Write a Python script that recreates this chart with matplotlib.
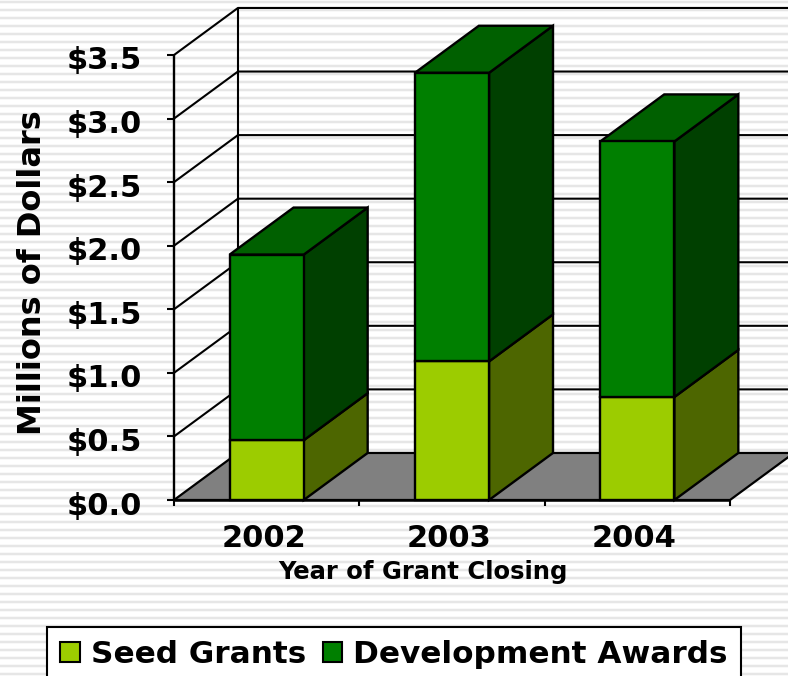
import numpy as np
import matplotlib
matplotlib.use("Agg")
import matplotlib.pyplot as plt
import matplotlib.transforms as mtrans
from matplotlib.patches import Polygon, Patch

years = ["2002", "2003", "2004"]
seed_grants = [0.47, 1.09, 0.81]
development_awards = [1.46, 2.27, 2.01]
y_ticks = [0.0, 0.5, 1.0, 1.5, 2.0, 2.5, 3.0, 3.5]
y_labels = ["$0.0", "$0.5", "$1.0", "$1.5", "$2.0", "$2.5", "$3.0", "$3.5"]

W, H = 788, 676
SEED_FRONT = "#9ccc00"
SEED_SIDE = "#4d6600"
SEED_TOP = "#5f7f00"
DEV_FRONT = "#007f00"
DEV_SIDE = "#004000"
DEV_TOP = "#006000"
FLOOR = "#808080"

# oblique offset of the back wall, in data units
DX, DY = 0.345, 0.37
BAR_W = 0.4

plt.rcParams["font.family"] = ["DejaVu Sans"]
plt.rcParams["font.weight"] = "bold"

fig = plt.figure(figsize=(W / 100, H / 100), dpi=100, facecolor="white")

# striped slide background
bg = fig.add_axes([0, 0, 1, 1], zorder=0)
rows = np.arange(H) % 8
stripes = np.ones((H, 1))
stripes[(rows == 1) | (rows == 2)] = 0.90
stripes[(rows == 0) | (rows == 3)] = 0.97
bg.imshow(stripes, cmap="gray", vmin=0, vmax=1, aspect="auto", interpolation="nearest")
bg.axis("off")

ax = fig.add_axes([174 / W, 1 - 500 / H, 556 / W, 445 / H], zorder=1)
ax.set_xlim(0, 3)
ax.set_ylim(0, 3.5)
ax.patch.set_alpha(0)
for s in ax.spines.values():
    s.set_visible(False)


def poly(pts, fc, z=3, lw=1.7):
    ax.add_patch(Polygon(pts, closed=True, fc=fc, ec="black", lw=lw, clip_on=False, zorder=z, joinstyle="miter"))


def line(xs, ys, lw=1.5, z=2):
    ax.plot(xs, ys, color="black", lw=lw, clip_on=False, zorder=z, solid_capstyle="butt")


# the right side of the plot runs off the slide edge
x_end = 3 + DX

# gridlines and left wall
for t in y_ticks[1:]:
    line([0, DX, x_end], [t, t + DY, t + DY])
line([DX, DX], [DY, 3.5 + DY])
line([0, 0], [0, 3.5], lw=1.7)

# floor
poly([(0, 0), (DX, DY), (x_end, DY), (3, 0)], FLOOR, z=2, lw=1.6)

# axis ticks
for t in y_ticks:
    line([-0.04, 0], [t, t], lw=1.5, z=4)
for i in range(4):
    line([i, i], [0, -0.05], lw=1.5, z=4)
line([0, 3], [0, 0], lw=1.8, z=4)

# bars, back to front
for i in range(len(years)):
    x0 = i + 0.5 - BAR_W / 2
    x1 = x0 + BAR_W
    s = seed_grants[i]
    t = s + development_awards[i]
    poly([(x1, 0), (x1 + DX, DY), (x1 + DX, s + DY), (x1, s)], SEED_SIDE)
    poly([(x1, s), (x1 + DX, s + DY), (x1 + DX, t + DY), (x1, t)], DEV_SIDE)
    poly([(x0, t), (x0 + DX, t + DY), (x1 + DX, t + DY), (x1, t)], DEV_TOP)
    poly([(x0, 0), (x1, 0), (x1, s), (x0, s)], SEED_FRONT, z=4)
    poly([(x0, s), (x1, s), (x1, t), (x0, t)], DEV_FRONT, z=4)

ax.set_yticks(y_ticks)
ax.set_yticklabels(y_labels, fontsize=22, fontweight="bold")
ax.set_xticks([i + 0.484 for i in range(3)])
ax.set_xticklabels(years, fontsize=22, fontweight="bold")
ax.tick_params(axis="both", length=0)
ax.tick_params(axis="y", pad=23)
ax.tick_params(axis="x", pad=17)

# y labels sit a little below their gridlines in the original
shift = mtrans.ScaledTranslation(0, -3 / 100, fig.dpi_scale_trans)
for lab in ax.get_yticklabels():
    lab.set_transform(lab.get_transform() + shift)

fig.text(33 / W, 1 - 273 / H, "Millions of Dollars", rotation=90, fontsize=23, fontweight="bold",
         ha="center", va="center")
fig.text(423 / W, 1 - 572 / H, "Year of Grant Closing", fontsize=17.5, fontweight="bold",
         ha="center", va="center")

handles = [Patch(fc=SEED_FRONT, ec="black", lw=1.5), Patch(fc=DEV_FRONT, ec="black", lw=1.5)]
leg = fig.legend(handles, ["Seed Grants", "Development Awards"], ncol=2, fontsize=22.4,
                 loc="upper center", bbox_to_anchor=(394 / W, 1 - 627 / H), frameon=True, fancybox=False,
                 edgecolor="black", framealpha=1, handlelength=0.62, handleheight=0.62,
                 handletextpad=0.35, columnspacing=0.55, borderpad=0.42, borderaxespad=0)
leg.get_frame().set_linewidth(1.5)
leg.get_frame().set_facecolor("white")
leg.set_zorder(5)

fig.savefig("out.png", dpi=100)
